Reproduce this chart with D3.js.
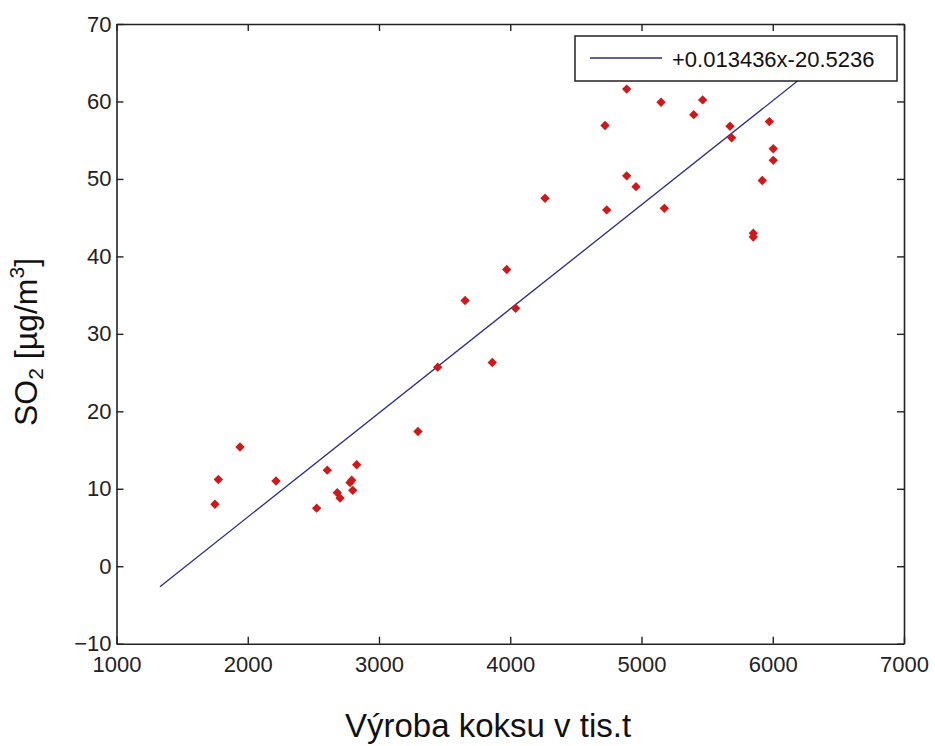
<!DOCTYPE html>
<html lang="cs">
<head>
    <meta charset="UTF-8">
    <title>SO2 vs. výroba koksu</title>
    <style>
        body {
            margin: 0;
            background: #fff;
        }
        .tick text {
            font-family: Arial, "Liberation Sans", sans-serif;
            font-size: 22px;
            fill: #222;
        }
        .label {
            font-family: Arial, "Liberation Sans", sans-serif;
            fill: #111;
        }
    </style>
</head>
<body>
    <svg id="chart"></svg>
    <script src="https://d3js.org/d3.v7.min.js"></script>
    <script>
        const width = 935;
        const height = 746;
        const margin = { top: 24, right: 31, bottom: 102.3, left: 116.5 };

        // coke production (thousand t) and SO2 concentration
        const vyroba = [1750, 1776, 1941, 2215, 2525, 2606, 2682, 2703, 2779, 2792, 2800, 2830,
            3297, 3447, 3656, 3863, 3973, 4041, 4265,
            4722, 4735, 4887, 4887, 4958, 5149, 5174, 5398, 5466, 5674, 5687,
            5852, 5852, 5920, 5974, 6004, 6004];
        const so2 = [8.0, 11.2, 15.4, 11.0, 7.5, 12.4, 9.5, 8.8, 10.8, 11.1, 9.8, 13.1,
            17.4, 25.7, 34.3, 26.3, 38.3, 33.3, 47.5,
            56.9, 46.0, 61.6, 50.4, 49.0, 59.9, 46.2, 58.3, 60.2, 56.8, 55.3,
            43.0, 42.5, 49.8, 57.4, 53.9, 52.4];

        // linear fit
        const slope = 0.013436;
        const intercept = -20.5236;
        const fitRange = [1331, 6400];
        const legendText = "+0.013436x-20.5236";

        const xTicks = [1000, 2000, 3000, 4000, 5000, 6000, 7000];
        const yTicks = [-10, 0, 10, 20, 30, 40, 50, 60, 70];

        const svg = d3.select("#chart")
            .attr("width", width)
            .attr("height", height);

        const x = d3.scaleLinear().domain([1000, 7000]).range([margin.left, width - margin.right]);
        const y = d3.scaleLinear().domain([-10, 70]).range([height - margin.bottom, margin.top]);

        svg.append("clipPath").attr("id", "plot")
            .append("rect")
            .attr("x", margin.left).attr("y", margin.top)
            .attr("width", x(7000) - x(1000)).attr("height", y(-10) - y(70));

        // fit line
        svg.append("line")
            .attr("clip-path", "url(#plot)")
            .attr("x1", x(fitRange[0]))
            .attr("y1", y(slope * fitRange[0] + intercept))
            .attr("x2", x(fitRange[1]))
            .attr("y2", y(slope * fitRange[1] + intercept))
            .attr("stroke", "#2b2b8a")
            .attr("stroke-width", 1.3);

        // points
        const diamond = d3.symbol().type(d3.symbolSquare).size(44);
        svg.selectAll(".pt")
            .data(vyroba.map((v, i) => [v, so2[i]]))
            .enter()
            .append("path")
            .attr("class", "pt")
            .attr("d", diamond)
            .attr("transform", d => `translate(${x(d[0])},${y(d[1])}) rotate(45)`)
            .attr("fill", "#d01818");

        // axes, ticks pointing inward
        const styleAxis = g => {
            g.select(".domain").attr("stroke", "#222").attr("stroke-width", 1.6);
            g.selectAll(".tick line").attr("stroke", "#222").attr("stroke-width", 1.4);
        };
        const fmt = d3.format("d");

        svg.append("g")
            .attr("transform", `translate(0,${y(-10)})`)
            .call(d3.axisBottom(x).tickValues(xTicks).tickFormat(fmt).tickSize(-7).tickSizeOuter(0).tickPadding(13))
            .call(styleAxis);

        svg.append("g")
            .attr("transform", `translate(0,${y(70)})`)
            .call(d3.axisTop(x).tickValues(xTicks).tickSize(-7).tickSizeOuter(0).tickFormat(""))
            .call(styleAxis);

        svg.append("g")
            .attr("transform", `translate(${x(1000)},0)`)
            .call(d3.axisLeft(y).tickValues(yTicks).tickFormat(fmt).tickSize(-7).tickSizeOuter(0).tickPadding(5))
            .call(styleAxis);

        svg.append("g")
            .attr("transform", `translate(${x(7000)},0)`)
            .call(d3.axisRight(y).tickValues(yTicks).tickSize(-7).tickSizeOuter(0).tickFormat(""))
            .call(styleAxis);

        svg.selectAll(".tick text").attr("font-family", null).attr("font-size", null);

        // legend
        const legend = svg.append("g").attr("transform", "translate(575,36)");
        legend.append("rect")
            .attr("width", 322).attr("height", 45)
            .attr("fill", "#fff").attr("stroke", "#222").attr("stroke-width", 1.5);
        legend.append("line")
            .attr("x1", 15).attr("x2", 87).attr("y1", 22).attr("y2", 22)
            .attr("stroke", "#2b2b8a").attr("stroke-width", 1.3);
        legend.append("text")
            .attr("class", "label")
            .attr("x", 97).attr("y", 31)
            .attr("font-size", 22)
            .text(legendText);

        // axis titles
        svg.append("text")
            .attr("class", "label")
            .attr("x", 488).attr("y", 737)
            .attr("text-anchor", "middle")
            .attr("font-size", 33)
            .text("Výroba koksu v tis.t");

        const yl = svg.append("text")
            .attr("class", "label")
            .attr("transform", "translate(37,342) rotate(-90)")
            .attr("text-anchor", "middle")
            .attr("font-size", 32);
        yl.append("tspan").text("SO");
        yl.append("tspan").attr("font-size", 21).attr("dy", 6).text("2");
        yl.append("tspan").attr("dy", -6).text(" [µg/m");
        yl.append("tspan").attr("font-size", 21).attr("dy", -13).text("3");
        yl.append("tspan").attr("dy", 13).text("]");
    </script>
</body>
</html>
